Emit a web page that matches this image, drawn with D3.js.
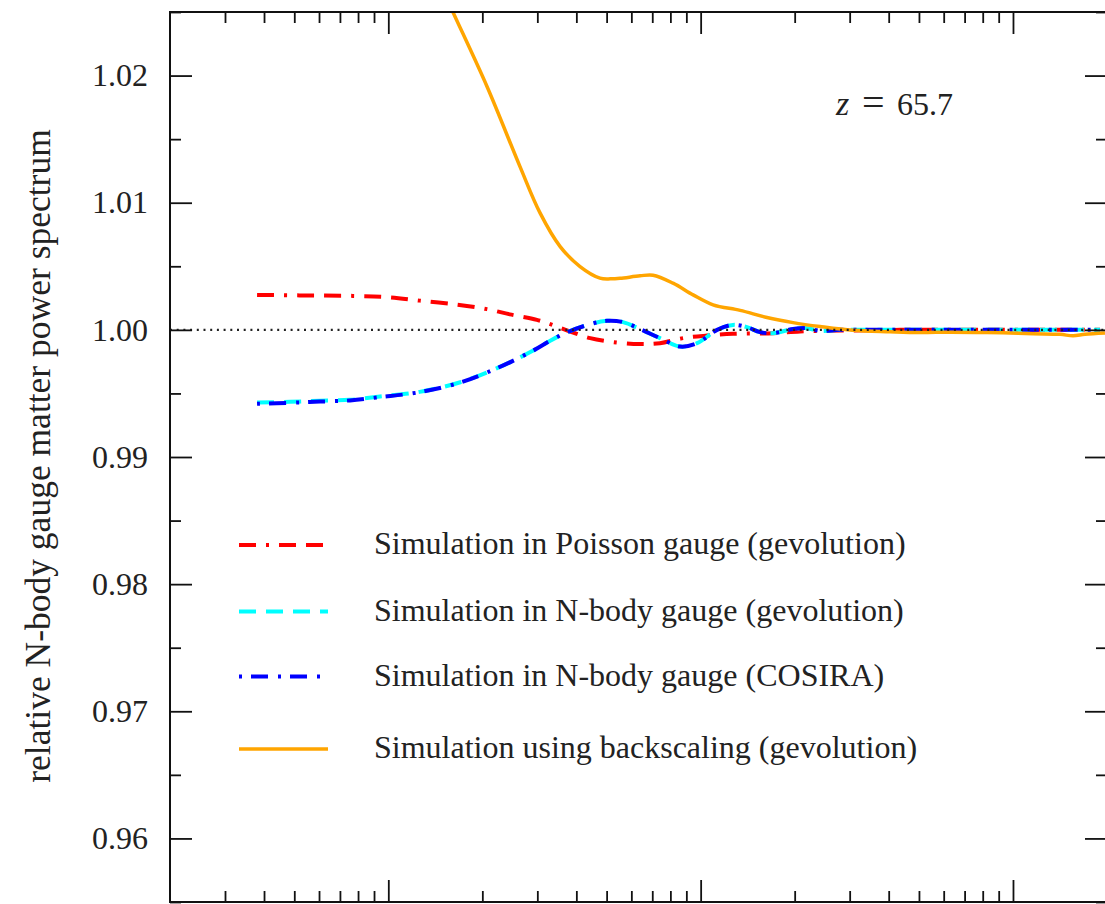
<!DOCTYPE html>
<html><head><meta charset="utf-8">
<script src="https://cdn.jsdelivr.net/npm/d3@7"></script>
<style>html,body{margin:0;padding:0;background:#fff;} svg{display:block;}</style>
</head><body>
<svg id="chart" width="1105" height="904"></svg>
<script>
// ---- data ----
const xDomain = [0.002, 2];
const yDomain = [0.955, 1.025];
const yMajorTicks = [0.96, 0.97, 0.98, 0.99, 1.00, 1.01, 1.02];
const yTickLabels = ["0.96", "0.97", "0.98", "0.99", "1.00", "1.01", "1.02"];
const yMinorTicks = [0.955, 0.965, 0.975, 0.985, 0.995, 1.005, 1.015, 1.025];
const xMajorTicks = [0.01, 0.1, 1];
const xMinorTicks = [0.003,0.004,0.005,0.006,0.007,0.008,0.009,
                     0.02,0.03,0.04,0.05,0.06,0.07,0.08,0.09,
                     0.2,0.3,0.4,0.5,0.6,0.7,0.8,0.9,2];

const seriesNames = [
  "Simulation in Poisson gauge (gevolution)",
  "Simulation in N-body gauge (gevolution)",
  "Simulation in N-body gauge (COSIRA)",
  "Simulation using backscaling (gevolution)"
];
const annotation = "65.7";

const poissonK = [0.0038, 0.0052, 0.0077, 0.0101, 0.0126, 0.0164, 0.0207, 0.0245, 0.0299, 0.0342, 0.0382, 0.0443, 0.054, 0.064, 0.0741, 0.0879, 0.1048, 0.127, 0.1705, 0.2082, 0.28, 0.435, 0.7, 1.0, 1.4, 1.9];
const poissonV = [1.00275, 1.00271, 1.00267, 1.00256, 1.0023, 1.0020, 1.00163, 1.00122, 1.00079, 1.00031, 0.99987, 0.99935, 0.999, 0.99888, 0.99895, 0.99935, 0.99955, 0.99969, 0.99974, 0.99987, 0.99994, 1.0, 1.0, 1.0, 1.0, 1.0];

const nbodyK = [0.0038, 0.00485, 0.00604, 0.00754, 0.00941, 0.0126, 0.017, 0.0223, 0.0291, 0.0329, 0.0373, 0.0443, 0.0501, 0.0564, 0.064, 0.0741, 0.0859, 0.0974, 0.1129, 0.127, 0.1408, 0.1549, 0.1705, 0.1977, 0.2192, 0.2411, 0.28, 0.4, 0.7, 1.0, 1.4, 1.9];
const nbodyGevV = [0.99428, 0.99434, 0.99443, 0.9945, 0.99476, 0.99512, 0.99588, 0.99699, 0.99837, 0.99913, 0.9998, 1.00045, 1.00071, 1.00061, 1.00006, 0.99935, 0.99869, 0.99895, 1.0, 1.00039, 1.00021, 0.99982, 0.99974, 1.00006, 1.00013, 0.99992, 1.0, 1.0, 1.0, 1.0, 1.0, 1.0];
const nbodyCosV = [0.99418, 0.99426, 0.99436, 0.99445, 0.99471, 0.9951, 0.99586, 0.99699, 0.99837, 0.99913, 0.9998, 1.00045, 1.00071, 1.00061, 1.00006, 0.99935, 0.99869, 0.99895, 1.0, 1.00039, 1.00021, 0.99982, 0.99974, 1.00006, 1.00013, 0.99992, 1.0, 1.0, 1.0, 1.0, 1.0, 1.0];

const backK = [0.0146, 0.0161, 0.0207, 0.0264, 0.0306, 0.0355, 0.0411, 0.0476, 0.0515, 0.0552, 0.064, 0.0704, 0.0816, 0.0946, 0.1096, 0.1338, 0.1631, 0.1977, 0.2411, 0.3076, 0.4042, 0.504, 0.629, 0.826, 0.979, 1.16, 1.415, 1.557, 1.70, 1.97];
const backV = [1.0273, 1.025, 1.01914, 1.01284, 1.0092, 1.00655, 1.00498, 1.00407, 1.00401, 1.00405, 1.00425, 1.0043, 1.00367, 1.00275, 1.00197, 1.00153, 1.00097, 1.00057, 1.00026, 0.99996, 0.99985, 0.99979, 0.99982, 0.99979, 0.99975, 0.99969, 0.99965, 0.99953, 0.99965, 0.99975];

// ---- drawing ----
const FONT = "'Liberation Serif', 'Times New Roman', serif";
const L = 170, R = 1107, T = 12, B = 902;
const svg = d3.select("#chart");
const x = d3.scaleLog().domain(xDomain).range([L, R]);
const y = d3.scaleLinear().domain(yDomain).range([B, T]);

svg.append("defs").append("clipPath").attr("id", "clip")
  .append("rect").attr("x", L).attr("y", T).attr("width", R - L).attr("height", B - T);

const series = [
  {k: poissonK, v: poissonV, color: "#ff0000", dash: "17,10,3,10,17,10", width: 4},
  {k: nbodyK, v: nbodyGevV, color: "#00ffff", dash: "17,10", width: 4},
  {k: nbodyK, v: nbodyCosV, color: "#0000ff", dash: "3,9,17,10", width: 4},
  {k: backK, v: backV, color: "#ffa500", dash: null, width: 3.5}
];

const line = d3.line().x(d => x(d[0])).y(d => y(d[1])).curve(d3.curveCatmullRom.alpha(0.5));
const plot = svg.append("g").attr("clip-path", "url(#clip)");
series.forEach(s => {
  const pts = s.k.map((k, i) => [k, s.v[i]]);
  plot.append("path").datum(pts).attr("d", line)
    .attr("fill", "none").attr("stroke", s.color).attr("stroke-width", s.width)
    .attr("stroke-dasharray", s.dash).attr("stroke-linejoin", "round");
});
// reference line at 1
plot.append("line").attr("x1", L).attr("x2", R).attr("y1", y(1)).attr("y2", y(1))
  .attr("stroke", "#222").attr("stroke-width", 2.2).attr("stroke-dasharray", "2,4.7");

// axes
function styleAxis(g) {
  g.select(".domain").remove();
  g.selectAll(".tick line").attr("stroke", "#111").attr("stroke-width", 1.8);
  g.selectAll("text").attr("font-family", FONT).attr("font-size", 32).attr("fill", "#222");
}
svg.append("g").attr("transform", `translate(${L},0)`)
  .call(d3.axisLeft(y).tickValues(yMajorTicks).tickSize(-22).tickPadding(22)
        .tickFormat((d, i) => yTickLabels[i])).call(styleAxis);
svg.append("g").attr("transform", `translate(${L},0)`)
  .call(d3.axisLeft(y).tickValues(yMinorTicks).tickSize(-11).tickFormat("")).call(styleAxis);
svg.append("g").attr("transform", `translate(${R},0)`)
  .call(d3.axisRight(y).tickValues(yMajorTicks).tickSize(-22).tickFormat("")).call(styleAxis);
svg.append("g").attr("transform", `translate(${R},0)`)
  .call(d3.axisRight(y).tickValues(yMinorTicks).tickSize(-11).tickFormat("")).call(styleAxis);
svg.append("g").attr("transform", `translate(0,${T})`)
  .call(d3.axisTop(x).tickValues(xMajorTicks).tickSize(-22).tickFormat("")).call(styleAxis);
svg.append("g").attr("transform", `translate(0,${T})`)
  .call(d3.axisTop(x).tickValues(xMinorTicks).tickSize(-11).tickFormat("")).call(styleAxis);
svg.append("g").attr("transform", `translate(0,${B})`)
  .call(d3.axisBottom(x).tickValues(xMajorTicks).tickSize(-22).tickFormat("")).call(styleAxis);
svg.append("g").attr("transform", `translate(0,${B})`)
  .call(d3.axisBottom(x).tickValues(xMinorTicks).tickSize(-11).tickFormat("")).call(styleAxis);

// frame
svg.append("rect").attr("x", L).attr("y", T).attr("width", R - L).attr("height", B - T)
  .attr("fill", "none").attr("stroke", "#111").attr("stroke-width", 2);

// y label
svg.append("text").attr("transform", "translate(50,456) rotate(-90)")
  .attr("text-anchor", "middle").attr("font-family", FONT).attr("font-size", 35.5)
  .attr("fill", "#222").text("relative N-body gauge matter power spectrum");

// annotation z = 65.7
const ann = svg.append("g").attr("font-family", FONT).attr("font-size", 32).attr("fill", "#222");
ann.append("text").attr("x", 836).attr("y", 115).attr("font-style", "italic").attr("font-size", 34).text("z");
ann.append("text").attr("x", 862).attr("y", 116).attr("font-size", 40).text("=");
ann.append("text").attr("x", 897).attr("y", 115).text(annotation);

// legend
const legY = [545, 611.5, 676.5, 749];
const leg = svg.append("g");
series.forEach((s, i) => {
  leg.append("line").attr("x1", 239).attr("x2", 328).attr("y1", legY[i]).attr("y2", legY[i])
    .attr("stroke", s.color).attr("stroke-width", s.width).attr("stroke-dasharray", s.dash);
  leg.append("text").attr("x", 374).attr("y", legY[i] + 9)
    .attr("font-family", FONT).attr("font-size", 32).attr("fill", "#222").text(seriesNames[i]);
});
</script>
</body></html>
